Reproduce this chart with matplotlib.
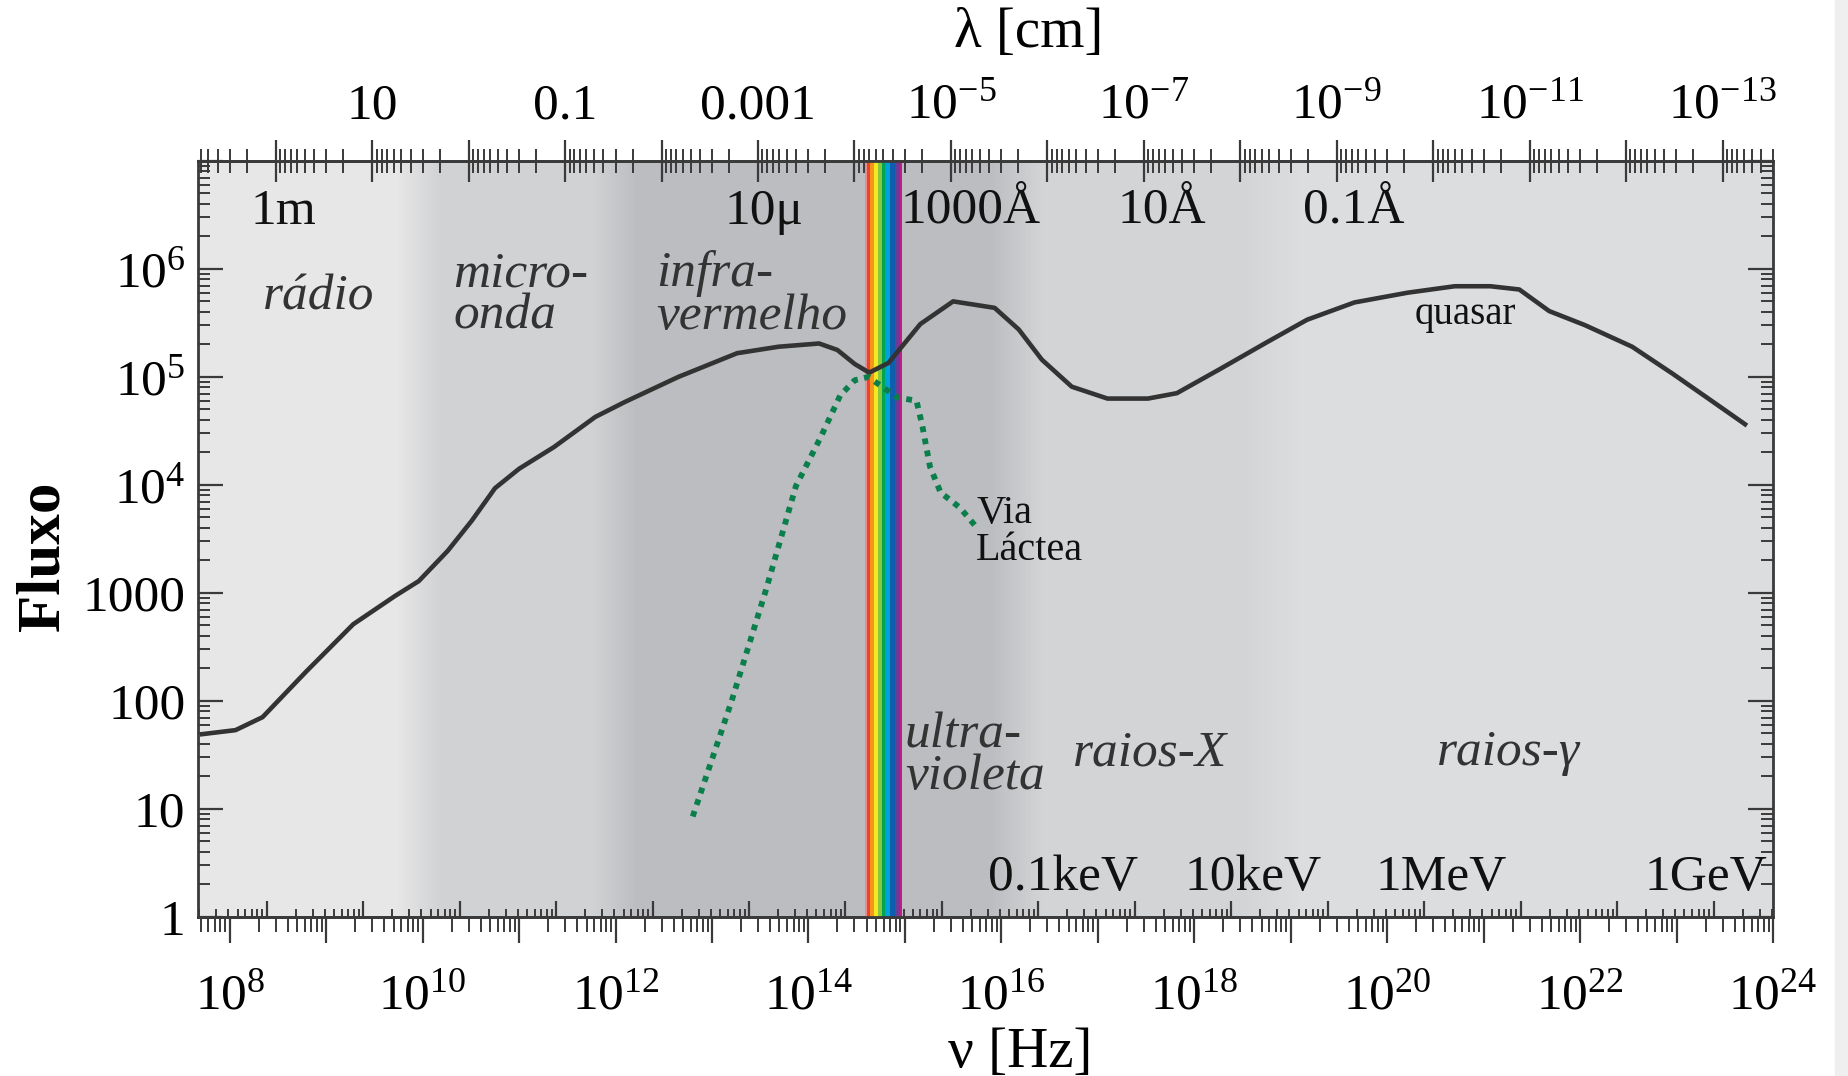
import numpy as np
import matplotlib.pyplot as plt
from matplotlib.ticker import LogLocator, FuncFormatter, NullFormatter
from matplotlib.colors import to_rgb
from matplotlib.patches import Rectangle

plt.rcParams['font.family'] = 'Liberation Serif'
plt.rcParams['mathtext.fontset'] = 'custom'
plt.rcParams['mathtext.rm'] = 'Liberation Serif'
plt.rcParams['mathtext.it'] = 'Liberation Serif:italic'

C_CM = 2.998e10      # velocidade da luz [cm/s]
H_EV = 4.1357e-15    # constante de Planck [eV s]

# espectro do quasar: log10(nu [Hz]) e log10(fluxo)
quasar_lognu = [7.69, 8.06, 8.34, 8.79, 9.28, 9.71, 9.96, 10.26, 10.51, 10.75, 11.00,
                11.36, 11.79, 12.10, 12.65, 13.26, 13.69, 14.11, 14.30, 14.48, 14.63,
                14.83, 15.16, 15.50, 15.93, 16.18, 16.42, 16.73, 17.10, 17.52, 17.82,
                18.26, 18.75, 19.17, 19.66, 20.21, 20.70, 21.07, 21.37, 21.68, 22.05,
                22.54, 22.96, 23.33, 23.73]
quasar_logf = [1.69, 1.73, 1.85, 2.27, 2.71, 2.97, 3.11, 3.39, 3.67, 3.97, 4.15,
               4.35, 4.63, 4.77, 5.00, 5.22, 5.28, 5.31, 5.25, 5.12, 5.04,
               5.13, 5.49, 5.70, 5.64, 5.44, 5.16, 4.91, 4.80, 4.80, 4.85,
               5.07, 5.32, 5.53, 5.69, 5.78, 5.84, 5.84, 5.81, 5.61, 5.48,
               5.28, 5.03, 4.80, 4.55]

# espectro da Via Lactea
via_lognu = [12.80, 13.20, 13.56, 13.87, 14.12, 14.33, 14.48, 14.62, 14.78, 14.92,
             15.12, 15.18, 15.26, 15.37, 15.57, 15.75]
via_logf = [0.93, 1.99, 3.03, 3.99, 4.43, 4.83, 4.97, 5.00, 4.90, 4.81,
            4.78, 4.55, 4.17, 3.93, 3.79, 3.60]

# faixas do espectro (log10 nu) e tons de cinza
faixa_ini = [7.67, 10.18, 12.22, 14.97, 16.44, 19.12]
faixa_fim = [9.72, 11.75, 14.59, 15.89, 18.51, 24.0]
faixa_cor = ['#e7e7e7', '#d1d2d4', '#bcbdc0', '#bcbdc0', '#d3d4d6', '#dcdddf']

# luz visivel
visivel_ini, visivel_fim = 14.59, 14.97
arco_cor = ['#f08a8a', '#e8452c', '#f7941d', '#f6e71f', '#8cc63f', '#00a651',
            '#00a3d9', '#0d5fae', '#6a3b97', '#c4188b']
arco_larg = [5, 10, 10, 12, 13, 10, 15, 15, 13, 7]

# nomes das regioes
regiao_txt = ['rádio', 'micro-\nonda', 'infra-\nvermelho', 'ultra-\nvioleta', 'raios-X', 'raios-γ']
regiao_x = [8.92, 10.32, 12.42, 15.00, 17.54, 21.26]
regiao_y = [5.74, 5.76, 5.76, 1.49, 1.52, 1.52]
regiao_ha = ['center', 'left', 'left', 'left', 'center', 'center']

# comprimentos de onda (dentro, em cima)
onda_txt = ['1m', '10μ', '1000Å', '10Å', '0.1Å']
onda_x = [8.56, 13.54, 15.68, 17.66, 19.65]
onda_y = 6.53

# energias (dentro, embaixo)
energia_txt = ['0.1keV', '10keV', '1MeV', '1GeV']
energia_x = [16.64, 18.61, 20.56, 23.31]
energia_y = 0.36

y_rotulos = {0: '1', 1: '10', 2: '100', 3: '1000', 4: '$10^{4}$', 5: '$10^{5}$', 6: '$10^{6}$'}
lambda_rotulos = {1: '10', -1: '0.1', -3: '0.001', -5: '$10^{-5}$', -7: '$10^{-7}$',
                  -9: '$10^{-9}$', -11: '$10^{-11}$', -13: '$10^{-13}$'}


def nu2lam(nu):
    nu = np.asarray(nu, dtype=float)
    return C_CM / np.maximum(nu, 1e-300)


def nu2e(nu):
    return H_EV * np.asarray(nu, dtype=float)


def e2nu(e):
    return np.asarray(e, dtype=float) / H_EV


def rot_nu(v, pos):
    e = int(round(np.log10(v)))
    return '$10^{%d}$' % e if e % 2 == 0 else ''


def rot_lam(v, pos):
    e = int(round(np.log10(v)))
    return lambda_rotulos.get(e, '')


def rot_y(v, pos):
    e = int(round(np.log10(v)))
    return y_rotulos.get(e, '')


fig = plt.figure(figsize=(18.48, 10.76), dpi=100)
fig.patches.append(Rectangle((1835 / 1848, 0), 13 / 1848, 1, transform=fig.transFigure,
                             color='#efefef', zorder=0))
ax = fig.add_axes([0.1071, 0.1478, 0.8523, 0.7026])
ax.set_xscale('log')
ax.set_yscale('log')
ax.set_xlim(10 ** 7.67, 1e24)
ax.set_ylim(1, 1e7)

# fundo em tons de cinza com transicoes suaves
for i in range(len(faixa_cor)):
    ax.axvspan(10 ** faixa_ini[i], 10 ** faixa_fim[i], color=faixa_cor[i], lw=0, zorder=0)
    if i < len(faixa_cor) - 1 and i != 2:
        a, b = faixa_fim[i], faixa_ini[i + 1]
        c1, c2 = np.array(to_rgb(faixa_cor[i])), np.array(to_rgb(faixa_cor[i + 1]))
        n = 30
        for k in range(n):
            t = (k + 0.5) / n
            ax.axvspan(10 ** (a + (b - a) * k / n), 10 ** (a + (b - a) * (k + 1) / n),
                       color=c1 + (c2 - c1) * t, lw=0, zorder=0)

# arco-iris
larg = np.array(arco_larg, dtype=float)
bordas = visivel_ini + (visivel_fim - visivel_ini) * np.concatenate([[0], np.cumsum(larg) / larg.sum()])
for k, cor in enumerate(arco_cor):
    ax.axvspan(10 ** bordas[k], 10 ** bordas[k + 1], color=cor, lw=0, zorder=1)

ax.plot(10 ** np.array(quasar_lognu), 10 ** np.array(quasar_logf), color='#333333', lw=3.3,
        solid_joinstyle='round', solid_capstyle='butt', zorder=3)
ax.plot(10 ** np.array(via_lognu), 10 ** np.array(via_logf), color='#0a7f4c', lw=4.2,
        linestyle=(0, (1.0, 1.1)), dash_capstyle='butt', zorder=3)

for s, x, y, ha in zip(regiao_txt, regiao_x, regiao_y, regiao_ha):
    ax.text(10 ** x, 10 ** y, s, ha=ha, va='center', fontsize=37, style='italic',
            color='#333333', linespacing=0.88, zorder=4)
for s, x in zip(onda_txt, onda_x):
    ax.text(10 ** x, 10 ** onda_y, s, ha='center', va='center', fontsize=37, color='#111111', zorder=4)
for s, x in zip(energia_txt, energia_x):
    ax.text(10 ** x, 10 ** energia_y, s, ha='center', va='center', fontsize=37, color='#111111', zorder=4)
ax.text(10 ** 20.81, 10 ** 5.58, 'quasar', ha='center', va='center', fontsize=28, color='#111111', zorder=4)
ax.text(10 ** 15.74, 10 ** 3.56, 'Via\nLáctea', ha='left', va='center', fontsize=29,
        color='#111111', linespacing=1.0, zorder=4)

# eixos
cor_eixo = '#3a3a3a'
for sp in ax.spines.values():
    sp.set_linewidth(2.0)
    sp.set_color(cor_eixo)
    sp.set_zorder(5)

ax.xaxis.set_major_locator(LogLocator(base=10, numticks=100))
ax.xaxis.set_minor_locator(LogLocator(base=10, subs=np.arange(2, 10), numticks=100))
ax.xaxis.set_major_formatter(FuncFormatter(rot_nu))
ax.xaxis.set_minor_formatter(NullFormatter())
ax.yaxis.set_major_locator(LogLocator(base=10, numticks=100))
ax.yaxis.set_minor_locator(LogLocator(base=10, subs=np.arange(2, 10), numticks=100))
ax.yaxis.set_major_formatter(FuncFormatter(rot_y))
ax.yaxis.set_minor_formatter(NullFormatter())

ax.tick_params(axis='x', which='major', direction='out', length=18.7, width=1.6, color=cor_eixo,
               labelsize=37, pad=22, top=False)
ax.tick_params(axis='x', which='minor', direction='out', length=10.8, width=1.4, color=cor_eixo, top=False)
ax.tick_params(axis='y', which='major', direction='in', length=18, width=1.6, color=cor_eixo,
               labelsize=37, pad=9, left=True, right=True)
ax.tick_params(axis='y', which='minor', direction='in', length=8.6, width=1.4, color=cor_eixo,
               left=True, right=True)

ax.set_xlabel('ν [Hz]', fontsize=41)
ax.xaxis.set_label_coords(0.522, -0.1455)
ax.set_ylabel('Fluxo', fontsize=44, fontweight='bold')
ax.yaxis.set_label_coords(-0.080, 0.4775)

# eixo de cima: comprimento de onda
ax_lam = ax.secondary_xaxis('top', functions=(nu2lam, nu2lam))
ax_lam.xaxis.set_major_locator(LogLocator(base=10, numticks=100))
ax_lam.xaxis.set_minor_locator(LogLocator(base=10, subs=np.arange(2, 10), numticks=100))
ax_lam.xaxis.set_major_formatter(FuncFormatter(rot_lam))
ax_lam.xaxis.set_minor_formatter(NullFormatter())
ax_lam.tick_params(which='major', direction='inout', length=30, width=1.6, color=cor_eixo,
                   labelsize=37, pad=8)
ax_lam.tick_params(which='minor', direction='inout', length=17, width=1.4, color=cor_eixo)
ax_lam.spines['top'].set_linewidth(2.0)
ax_lam.spines['top'].set_color(cor_eixo)
ax.text(0.5276, 1.135, 'λ [cm]', transform=ax.transAxes, ha='center', va='bottom', fontsize=41)

# eixo de baixo interno: energia
ax_e = ax.secondary_xaxis('bottom', functions=(nu2e, e2nu))
ax_e.xaxis.set_major_locator(LogLocator(base=10, numticks=100))
ax_e.xaxis.set_minor_locator(LogLocator(base=10, subs=np.arange(2, 10), numticks=100))
ax_e.xaxis.set_major_formatter(NullFormatter())
ax_e.xaxis.set_minor_formatter(NullFormatter())
ax_e.tick_params(which='major', direction='in', length=11.5, width=1.6, color=cor_eixo)
ax_e.tick_params(which='minor', direction='in', length=5.8, width=1.4, color=cor_eixo)
ax_e.spines['bottom'].set_linewidth(2.0)
ax_e.spines['bottom'].set_color(cor_eixo)

plt.savefig('out.png', dpi=100)
